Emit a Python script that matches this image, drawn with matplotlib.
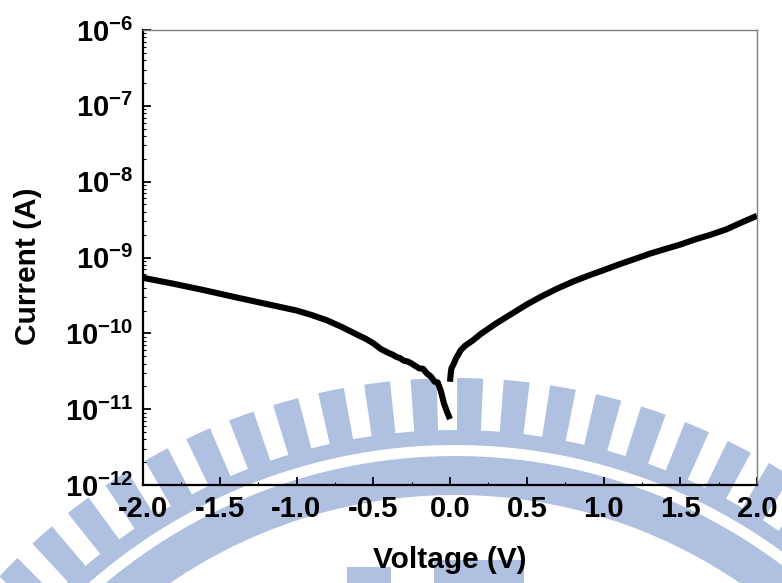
import matplotlib
matplotlib.use('Agg')
import matplotlib.pyplot as plt
import numpy as np
from matplotlib.patches import Polygon, Rectangle
from matplotlib.ticker import MultipleLocator, FixedLocator

# I-V data (reverse and forward branch)
v_neg = [-2.0, -1.8, -1.6, -1.4, -1.2, -1.0, -0.9, -0.8, -0.7, -0.6, -0.55, -0.5,
         -0.45, -0.4, -0.375, -0.35, -0.325, -0.3, -0.275, -0.25, -0.225, -0.2,
         -0.175, -0.15, -0.125, -0.1, -0.08, -0.06, -0.04, -0.02, 0.0]
i_neg = [5.4e-10, 4.5e-10, 3.7e-10, 3.0e-10, 2.45e-10, 2.0e-10, 1.74e-10, 1.48e-10,
         1.2e-10, 9.5e-11, 8.5e-11, 7.4e-11, 6.2e-11, 5.5e-11, 5.25e-11, 4.9e-11,
         4.7e-11, 4.35e-11, 4.25e-11, 4.0e-11, 3.7e-11, 3.45e-11, 3.4e-11, 2.95e-11,
         2.7e-11, 2.3e-11, 2.25e-11, 1.75e-11, 1.2e-11, 9.3e-12, 7.4e-12]

v_pos = [0.0, 0.005, 0.01, 0.02, 0.04, 0.07, 0.1, 0.15, 0.2, 0.3, 0.4, 0.5, 0.6,
         0.7, 0.8, 0.9, 1.0, 1.1, 1.2, 1.3, 1.4, 1.5, 1.6, 1.7, 1.8, 1.9, 2.0]
i_pos = [2.3e-11, 3.0e-11, 3.5e-11, 3.8e-11, 4.7e-11, 6.0e-11, 6.9e-11, 8.1e-11,
         9.8e-11, 1.35e-10, 1.8e-10, 2.4e-10, 3.1e-10, 3.9e-10, 4.8e-10, 5.75e-10,
         6.8e-10, 8.1e-10, 9.5e-10, 1.12e-9, 1.29e-9, 1.48e-9, 1.74e-9, 2.0e-9,
         2.35e-9, 2.9e-9, 3.55e-9]

xticks = [-2.0, -1.5, -1.0, -0.5, 0.0, 0.5, 1.0, 1.5, 2.0]
xtick_labels = ['-2.0', '-1.5', '-1.0', '-0.5', '0.0', '0.5', '1.0', '1.5', '2.0']
yticks = [1e-12, 1e-11, 1e-10, 1e-9, 1e-8, 1e-7, 1e-6]
ytick_labels = [r'$\mathdefault{10^{-12}}$', r'$\mathdefault{10^{-11}}$',
                r'$\mathdefault{10^{-10}}$', r'$\mathdefault{10^{-9}}$',
                r'$\mathdefault{10^{-8}}$', r'$\mathdefault{10^{-7}}$',
                r'$\mathdefault{10^{-6}}$']

plt.rcParams['font.family'] = ['Liberation Sans', 'DejaVu Sans']
plt.rcParams['font.weight'] = 'bold'
plt.rcParams['axes.unicode_minus'] = False

W, H = 782, 583
fig = plt.figure(figsize=(W / 100, H / 100), dpi=100)
fig.patch.set_facecolor('white')

# faint logo watermark behind the plot (pixel coords, y down)
bg = fig.add_axes([0, 0, 1, 1], zorder=-1)
bg.set_xlim(0, W)
bg.set_ylim(H, 0)
bg.axis('off')
wm = '#b0c0e1'
cx, cy = 455, 1000


def ring(r0, r1, a0, a1, n=120):
    a = np.radians(np.linspace(a0, a1, n))
    outer = np.column_stack([cx + r1 * np.sin(a), cy - r1 * np.cos(a)])
    inner = np.column_stack([cx + r0 * np.sin(a[::-1]), cy - r0 * np.cos(a[::-1])])
    return np.vstack([outer, inner])


for k in range(-17, 18):
    ac = -2.9 + k * 4.3
    bg.add_patch(Polygon(ring(568, 622, ac - 1.2, ac + 1.2, 8), closed=True,
                         color=wm, lw=0))
bg.add_patch(Polygon(ring(555, 570, -75, 75), closed=True, color=wm, lw=0))
bg.add_patch(Polygon(ring(505, 544, -75, 75), closed=True, color=wm, lw=0))
bg.add_patch(Rectangle((347, 567), 44, 20, color=wm, lw=0))
bg.add_patch(Rectangle((434, 560), 90, 27, color=wm, lw=0))

ax = fig.add_axes([143 / W, 1 - 485 / H, (757 - 143) / W, (485 - 30) / H])
ax.set_facecolor('none')

ax.plot(v_neg, i_neg, color='black', lw=4.4, solid_capstyle='butt')
ax.plot(v_pos, i_pos, color='black', lw=4.4, solid_capstyle='butt')

ax.set_yscale('log')
ax.set_xlim(-2.0, 2.0)
ax.set_ylim(1e-12, 1e-6)

ax.xaxis.set_major_locator(FixedLocator(xticks))
ax.set_xticklabels(xtick_labels)
ax.xaxis.set_minor_locator(MultipleLocator(0.25))
ax.yaxis.set_major_locator(FixedLocator(yticks))
ax.set_yticklabels(ytick_labels)

ax.tick_params(which='major', direction='in', length=6, width=1.3,
               labelsize=21, top=False, right=False)
ax.tick_params(axis='x', which='major', pad=7)
ax.tick_params(axis='y', which='major', pad=7)
ax.tick_params(which='minor', direction='in', length=2, width=0.8,
               top=False, right=False)
for lab in ax.get_xticklabels() + ax.get_yticklabels():
    lab.set_fontweight('bold')

for s in ['left', 'bottom']:
    ax.spines[s].set_linewidth(1.6)
    ax.spines[s].set_color('black')
for s in ['top', 'right']:
    ax.spines[s].set_linewidth(1.0)
    ax.spines[s].set_color('#7f7f7f')

ax.set_xlabel('Voltage (V)', fontsize=21.5, fontweight='bold', va='center')
ax.set_ylabel('Current (A)', fontsize=21.5, fontweight='bold', va='center')
ax.xaxis.set_label_coords(0.5, -0.165)
ax.yaxis.set_label_coords(-0.187, 0.481)

fig.savefig('out.png', dpi=100)
